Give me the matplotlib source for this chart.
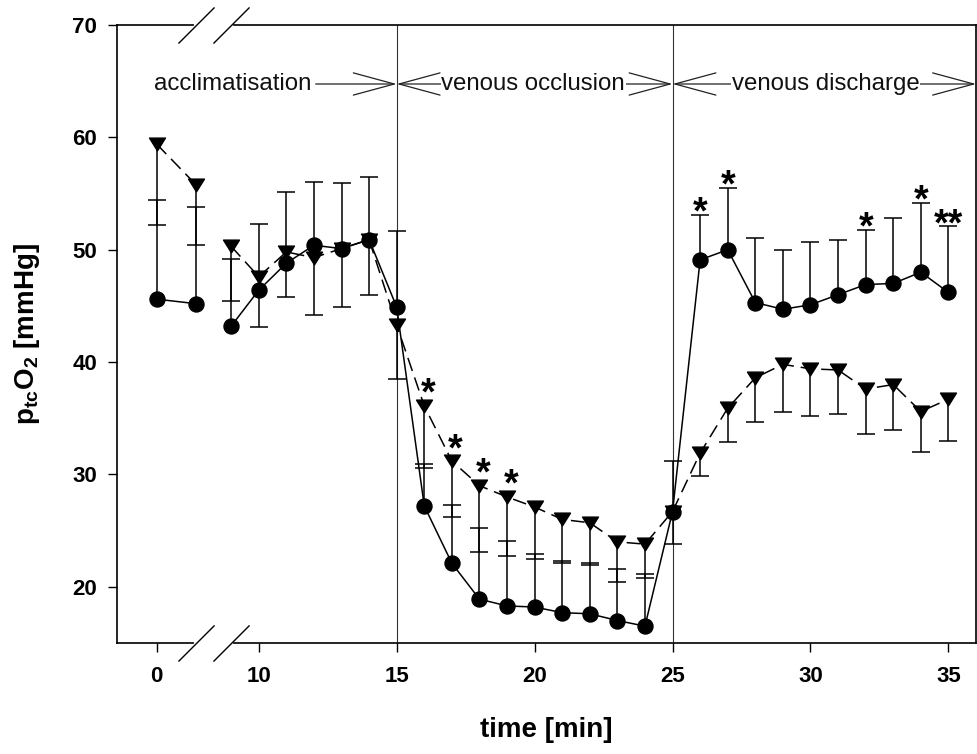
import numpy as np
import matplotlib
matplotlib.use("Agg")
import matplotlib.pyplot as plt
from matplotlib.path import Path

plt.rcParams['font.family'] = ['Liberation Sans', 'DejaVu Sans']
plt.rcParams['mathtext.fontset'] = 'custom'
plt.rcParams['mathtext.rm'] = 'Liberation Sans'
plt.rcParams['mathtext.bf'] = 'Liberation Sans:bold'

# data
time = np.array([0, 5, 9, 10, 11, 12, 13, 14, 15, 16, 17, 18, 19, 20, 21, 22,
                 23, 24, 25, 26, 27, 28, 29, 30, 31, 32, 33, 34, 35])
circ_mean = np.array([45.6, 45.2, 43.2, 46.4, 48.8, 50.4, 50.1, 50.9, 44.9, 27.2,
                      22.1, 18.9, 18.3, 18.2, 17.7, 17.6, 17.0, 16.5, 26.7, 49.1,
                      50.0, 45.3, 44.7, 45.1, 46.0, 46.9, 47.0, 48.0, 46.2])
circ_upper = np.array([54.4, 53.8, 49.2, 52.3, 55.1, 56.0, 55.9, 56.5, 51.7, 30.9,
                       27.3, 25.2, 24.1, 22.9, 22.3, 22.1, 21.6, 21.1, 31.2, 53.1,
                       55.5, 51.0, 50.0, 50.7, 50.9, 51.8, 52.8, 54.2, 52.1])
tri_mean = np.array([59.4, 55.8, 50.3, 47.6, 49.8, 49.3, 50.1, 50.9, 43.3, 36.1,
                     31.2, 29.0, 28.0, 27.1, 26.0, 25.7, 24.0, 23.8, 26.7, 31.9,
                     35.9, 38.6, 39.8, 39.4, 39.3, 37.6, 38.0, 35.6, 36.7])
tri_lower = np.array([52.2, 50.4, 45.4, 43.1, 45.8, 44.2, 44.9, 46.0, 38.5, 30.6,
                      26.2, 23.1, 22.7, 22.5, 22.1, 21.9, 20.4, 20.8, 23.8, 29.9,
                      32.9, 34.7, 35.6, 35.2, 35.4, 33.6, 34.0, 32.0, 33.0])

circ_star_t = [26, 27, 32, 34, 35]
circ_star_txt = ['*', '*', '*', '*', '**']
tri_star_t = [16, 17, 18, 19]

phases = ['acclimatisation', 'venous occlusion', 'venous discharge']
phase_bounds = [15, 25]
xticks = [0, 10, 15, 20, 25, 30, 35]
yticks = [20, 30, 40, 50, 60, 70]

# broken x axis: 0..5 squeezed, gap 5..9, then linear
T_KNOTS = [-100, 0, 5, 9, 100]
P_KNOTS = [6.30 - 28.4, 6.30, 7.72, 9, 100]


def fwd(t):
    return np.interp(t, T_KNOTS, P_KNOTS)


def inv(p):
    return np.interp(p, P_KNOTS, T_KNOTS)


fig = plt.figure(figsize=(9.78, 7.54), dpi=100)
ax = fig.add_axes([117.5 / 978, 111 / 754, 858.5 / 978, 618 / 754])
ax.set_xscale('function', functions=(fwd, inv))
ax.set_xlim(-5, 36)
ax.set_ylim(15, 70)

for b in phase_bounds:
    ax.axvline(b, color='#333333', lw=0.8, zorder=1)

# error bars: circles upward, triangles downward
n = len(time)
eb = ax.errorbar(time, circ_mean, yerr=[np.zeros(n), circ_upper - circ_mean],
                 fmt='none', ecolor='black', elinewidth=1.1, capsize=6.5, capthick=1.1, zorder=2)
eb[1][0].set_visible(False)
eb = ax.errorbar(time, tri_mean, yerr=[tri_mean - tri_lower, np.zeros(n)],
                 fmt='none', ecolor='black', elinewidth=1.1, capsize=6.5, capthick=1.1, zorder=2)
eb[1][1].set_visible(False)

# lines, interrupted at the axis break
for seg in (slice(0, 2), slice(2, None)):
    ax.plot(time[seg], circ_mean[seg], '-', color='black', lw=1.1, zorder=3)
    ax.plot(time[seg], tri_mean[seg], color='black', lw=1.1, dashes=(9, 4.5), zorder=3)

tri_marker = Path([(-1, 0.8), (1, 0.8), (0, -0.8), (-1, 0.8)],
                  [Path.MOVETO, Path.LINETO, Path.LINETO, Path.CLOSEPOLY])
ax.plot(time, tri_mean, linestyle='none', marker=tri_marker, ms=11.5, color='black', zorder=4)
ax.plot(time, circ_mean, linestyle='none', marker='o', ms=10.8, color='black', zorder=5)

# significance stars
for t, s in zip(circ_star_t, circ_star_txt):
    i = list(time).index(t)
    ax.annotate(s, (t, circ_upper[i]), xytext=(0, -6.5), textcoords='offset points',
                ha='center', va='baseline', fontsize=27, fontweight='bold')
for t in tri_star_t:
    i = list(time).index(t)
    ax.annotate('*', (t, tri_mean[i]), xytext=(2.7, 0.7), textcoords='offset points',
                ha='center', va='baseline', fontsize=27, fontweight='bold')

# phase annotations
ya = 64.75
head = dict(arrowstyle='->, head_length=29.5, head_width=8', mutation_scale=1,
            color='#222222', lw=0.9, shrinkA=1, shrinkB=0)
ax.annotate(phases[0], xy=(15, ya), xytext=(9.06, ya), ha='center', va='center',
            fontsize=17.3, color='#111111', arrowprops=head)
two = dict(arrowstyle='<->, head_length=29.5, head_width=8', mutation_scale=1,
           color='#222222', lw=0.9, shrinkA=0, shrinkB=0)
ax.annotate('', xy=(25, ya), xytext=(15, ya), arrowprops=two)
ax.annotate('', xy=(36, ya), xytext=(25, ya), arrowprops=two)
box = dict(facecolor='white', edgecolor='none', pad=0.5)
ax.text(19.95, ya, phases[1], ha='center', va='center', fontsize=17.3,
        color='#111111', bbox=box, zorder=6)
ax.text(30.54, ya, phases[2], ha='center', va='center', fontsize=17.3,
        color='#111111', bbox=box, zorder=6)

# axis break marks
tr = ax.get_xaxis_transform()
for yv in (0, 1):
    ax.plot([5, 9], [yv, yv], color='white', lw=3, transform=tr, clip_on=False, zorder=6)
slash = Path([(-1, -1), (1, 1)], [Path.MOVETO, Path.LINETO])
ax.plot([5, 9, 5, 9], [0, 0, 1, 1], linestyle='none', marker=slash, ms=26,
        mew=1.0, color='black', transform=tr, clip_on=False, zorder=7)

for sp in ax.spines.values():
    sp.set_linewidth(1.2)
ax.set_xticks(xticks)
ax.set_xticklabels([str(v) for v in xticks])
ax.set_yticks(yticks)
ax.tick_params(direction='out', length=6.5, width=1.0, labelsize=16)
ax.tick_params(axis='x', pad=10)
ax.tick_params(axis='y', pad=8)
for lab in ax.get_xticklabels() + ax.get_yticklabels():
    lab.set_fontweight('bold')

ax.set_xlabel('time [min]', fontsize=20, fontweight='bold', labelpad=22)
ax.set_ylabel(r'p$_{\mathbf{tc}}$O$_{\mathbf{2}}$ [mmHg]', fontsize=20,
              fontweight='bold', labelpad=22)

fig.savefig('out.png', dpi=100)
